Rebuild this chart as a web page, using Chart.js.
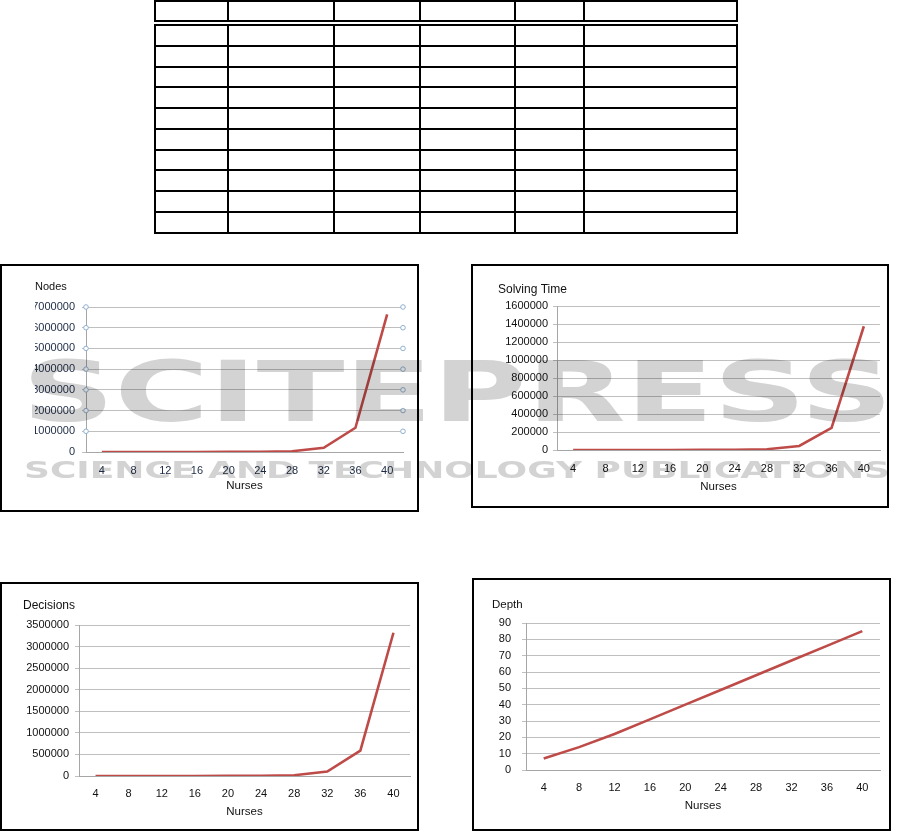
<!DOCTYPE html>
<html>
<head>
<meta charset="utf-8">
<script src="https://cdn.jsdelivr.net/npm/chart.js@4.4.1/dist/chart.umd.min.js"></script>
<style>
	html, body { margin: 0; padding: 0; background: #fff; }
	body { width: 912px; height: 833px; position: relative; overflow: hidden; font-family: "Liberation Sans", Arial, sans-serif; }
	table.grid { position: absolute; left: 154px; border-collapse: collapse; table-layout: fixed; width: 582px; }
	table.grid td { border: 2px solid #000; padding: 0; }
	table.head { top: 0px; }
	table.head td { height: 18px; }
	table.body { top: 24px; }
	table.body td { height: 18.75px; }
	.box { position: absolute; border: 2px solid #000; box-sizing: border-box; background: #fff; }
	.box canvas { position: absolute; left: 0; top: 0; }
	#mark { position: absolute; left: 0; top: 0; mix-blend-mode: multiply; pointer-events: none; }
</style>
</head>
<body>

<table class="grid head">
	<colgroup><col style="width:73px"><col style="width:106px"><col style="width:86px"><col style="width:95px"><col style="width:69px"><col style="width:153px"></colgroup>
	<tr><td></td><td></td><td></td><td></td><td></td><td></td></tr>
</table>
<table class="grid body" id="body-table">
	<colgroup><col style="width:73px"><col style="width:106px"><col style="width:86px"><col style="width:95px"><col style="width:69px"><col style="width:153px"></colgroup>
</table>

<div class="box" style="left:0px; top:264px; width:419px; height:248px;"><canvas id="c-nodes" width="415" height="244"></canvas></div>
<div class="box" style="left:471px; top:264px; width:418px; height:244px;"><canvas id="c-time" width="414" height="240"></canvas></div>
<div class="box" style="left:0px; top:582px; width:419px; height:249px;"><canvas id="c-dec" width="415" height="245"></canvas></div>
<div class="box" style="left:472px; top:578px; width:419px; height:253px;"><canvas id="c-depth" width="415" height="249"></canvas></div>

<svg id="mark" width="912" height="833">
	<text x="22" y="421" textLength="871" lengthAdjust="spacingAndGlyphs" font-family="DejaVu Sans" font-weight="bold" font-size="84" fill="#d3d3d3">SCITEPRESS</text>
	<text x="24" y="478" textLength="866" lengthAdjust="spacingAndGlyphs" font-family="DejaVu Sans" font-weight="bold" font-size="23" fill="#d3d3d3">SCIENCE AND TECHNOLOGY PUBLICATIONS</text>
</svg>

<script>
// Data
const nurses = ['4', '8', '12', '16', '20', '24', '28', '32', '36', '40'];
const nodes = [20, 150, 800, 2500, 7000, 9000, 38000, 205000, 1170000, 6640000];
const solvingTime = [5, 20, 100, 400, 1200, 3000, 9000, 45000, 245000, 1375000];
const decisions = [10, 75, 400, 1250, 3500, 4500, 19000, 102000, 590000, 3320000];
const depth = [7, 14, 22, 31, 40, 49, 58, 67, 76, 85];

const BODY_ROWS = 10;
const LINE_COLOR = '#BE4B48';
const GRID_COLOR = '#bfbfbf';

Chart.defaults.font.family = '"Liberation Sans", Arial, sans-serif';
Chart.defaults.color = '#111';

/**
 * Fill the empty table body
 */
function buildTable() {
	const tbl = document.getElementById('body-table');
	for (let r = 0; r < BODY_ROWS; r++) {
		const tr = document.createElement('tr');
		for (let c = 0; c < 6; c++) tr.appendChild(document.createElement('td'));
		tbl.appendChild(tr);
	}
}

// little round handles on the value axis, as in the first chart
const axisHandles = {
	id: 'axisHandles',
	afterDraw(chart) {
		const ctx = chart.ctx;
		const y = chart.scales.y;
		const { left, right } = chart.chartArea;
		ctx.save();
		ctx.strokeStyle = '#8fb0cf';
		ctx.fillStyle = '#fff';
		ctx.lineWidth = 1;
		y.ticks.forEach(t => {
			if (t.value === 0) return;
			const py = y.getPixelForValue(t.value);
			[left, right].forEach(px => {
				ctx.beginPath();
				ctx.arc(px, py, 2.3, 0, Math.PI * 2);
				ctx.fill();
				ctx.stroke();
			});
		});
		ctx.restore();
	}
};

/**
 * Make one Excel-like line chart
 * g holds the layout numbers for this chart
 */
function makeChart(id, title, values, yMax, yStep, g, extraPlugins) {
	const ctx = document.getElementById(id).getContext('2d');

	return new Chart(ctx, {
		type: 'line',
		data: {
			labels: nurses,
			datasets: [{
				label: title,
				data: values,
				borderColor: LINE_COLOR,
				backgroundColor: LINE_COLOR,
				borderWidth: 2.6,
				pointRadius: 0,
				tension: 0,
			}]
		},
		options: {
			responsive: false,
			animation: false,
			layout: {
				padding: { left: g.padLeft, right: g.padRight, top: 0, bottom: 0 }
			},
			scales: {
				x: {
					offset: true,
					grid: { display: true, drawOnChartArea: false, drawTicks: false, tickLength: 0 },
					border: { display: true, color: '#a6a6a6', width: 1 },
					ticks: { padding: g.xPad, font: { size: 11 }, color: g.tickColor, maxRotation: 0, autoSkip: false },
					title: {
						display: true,
						text: 'Nurses',
						font: { size: 11.5 },
						color: '#111',
						padding: { top: 0, bottom: g.nursesPad }
					},
					afterFit(scale) { scale.height = g.xHeight; }
				},
				y: {
					min: 0,
					max: yMax,
					grid: { color: GRID_COLOR, tickLength: 4, lineWidth: 1 },
					border: { display: true, color: '#a6a6a6', width: 1 },
					ticks: {
						stepSize: yStep,
						padding: g.yPad,
						font: { size: 11 },
						color: g.tickColor,
						callback: v => String(v)
					},
					afterFit(scale) { scale.width = g.yWidth; }
				}
			},
			plugins: {
				legend: { display: false },
				tooltip: { enabled: false },
				title: {
					display: true,
					text: title,
					align: 'start',
					color: '#111',
					font: { size: g.titleSize, weight: 'normal' },
					padding: { top: g.titleTop, bottom: g.titleBottom }
				}
			}
		},
		plugins: extraPlugins || []
	});
}

function init() {
	buildTable();

	makeChart('c-nodes', 'Nodes', nodes, 7000000, 1000000, {
		padLeft: 33, padRight: 14, yWidth: 51, yPad: 7,
		titleSize: 11, titleTop: 14.4, titleBottom: 13.4,
		xHeight: 58, xPad: 12.4, nursesPad: 17, tickColor: '#1d2b45'
	}, [axisHandles]);

	makeChart('c-time', 'Solving Time', solvingTime, 1600000, 200000, {
		padLeft: 25, padRight: 7, yWidth: 59, yPad: 5,
		titleSize: 12, titleTop: 16.8, titleBottom: 8.8,
		xHeight: 56, xPad: 12.4, nursesPad: 12, tickColor: '#111'
	});

	makeChart('c-dec', 'Decisions', decisions, 3500000, 500000, {
		padLeft: 21, padRight: 7, yWidth: 56, yPad: 6,
		titleSize: 12, titleTop: 14.8, titleBottom: 11.8,
		xHeight: 53, xPad: 11.4, nursesPad: 10.4, tickColor: '#111'
	});

	makeChart('c-depth', 'Depth', depth, 90, 10, {
		padLeft: 18, padRight: 9, yWidth: 34, yPad: 11,
		titleSize: 11.5, titleTop: 18.1, titleBottom: 11.1,
		xHeight: 59, xPad: 11.4, nursesPad: 16, tickColor: '#111'
	});
}

document.addEventListener('DOMContentLoaded', init);
</script>
</body>
</html>
